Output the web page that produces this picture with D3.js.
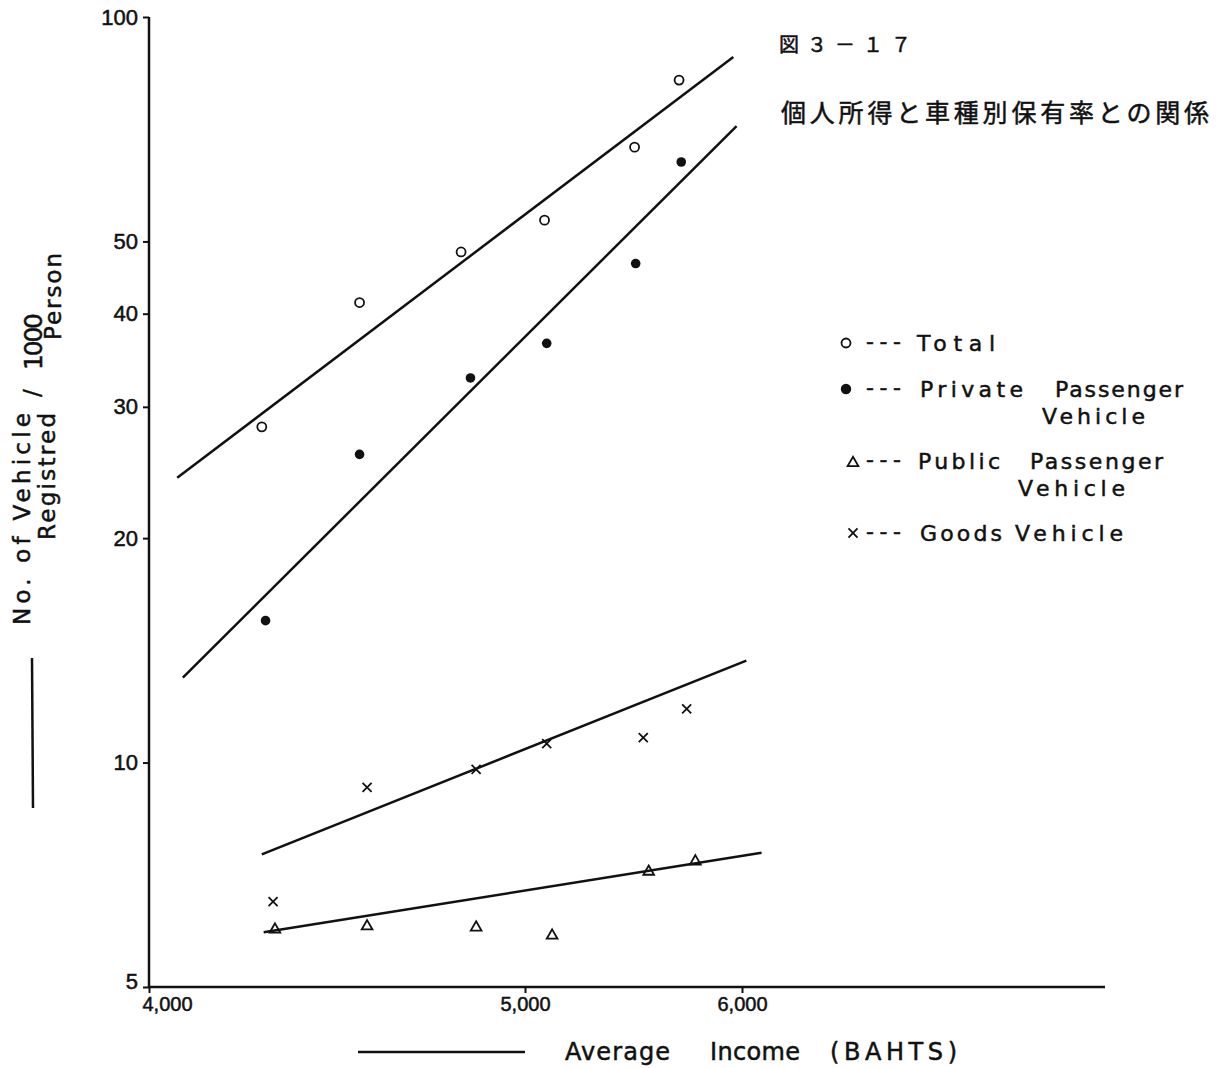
<!DOCTYPE html>
<html lang="ja">
<head>
<meta charset="UTF-8">
<title>個人所得と車種別保有率との関係</title>
<script src="https://cdn.jsdelivr.net/npm/d3@7"></script>
<style>
  body { margin: 0; background: #fff; }
  svg { display: block; font-family: "DejaVu Sans", sans-serif; }
  svg text { fill: #111; stroke: #111; stroke-width: 0.5px; }
  .axis line { stroke: #111; stroke-width: 2; }
  .jp { font-family: "Noto Sans CJK JP", sans-serif; }
</style>
</head>
<body>
<svg width="1219" height="1068"></svg>
<script>
// average income (BAHTS) vs vehicles registered per 1000 persons
const totalIncome   = [4300, 4560, 4830, 5090, 5505, 5710];
const totalRate     = [28.2, 41.4, 48.4, 53.4, 66.9, 82.3];
const privateIncome = [4310, 4560, 4855, 5100, 5510, 5720];
const privateRate   = [15.5, 25.9, 32.8, 36.5, 46.7, 63.9];
const publicIncome  = [4335, 4580, 4870, 5125, 5570, 5785];
const publicRate    = [5.97, 6.03, 6.01, 5.86, 7.14, 7.37];
const goodsIncome   = [4330, 4580, 4870, 5100, 5545, 5745];
const goodsRate     = [6.51, 9.26, 9.79, 10.6, 10.8, 11.8];

// fitted trend lines: [income, rate] at start and end
const totalFit   = [[4075, 24.1], [5960, 88.4]];
const privateFit = [[4090, 13.0], [5975, 71.4]];
const publicFit  = [[4305, 5.92], [6090, 7.57]];
const goodsFit   = [[4300, 7.53], [6020, 13.7]];

const seriesNames = ["Total", "Private Passenger Vehicle", "Public Passenger Vehicle", "Goods Vehicle"];
const xTicks = [4000, 5000, 6000];
const yTicks = [5, 10, 20, 30, 40, 50, 100];

const svg = d3.select("svg");
const x0 = 149, y0 = 987, yTop = 17, xEnd = 1105;

// the x axis of the original is not evenly spaced, so each labelled tick gets its own stop
const x = d3.scaleLinear().domain(xTicks).range([x0, 525, 742]);
const y = d3.scaleLog().domain([5, 100]).range([y0, yTop]);

// axes
svg.append("line")
    .attr("x1", x0).attr("y1", yTop).attr("x2", x0).attr("y2", y0)
    .attr("stroke", "#111").attr("stroke-width", 2.5);
svg.append("line")
    .attr("x1", x0).attr("y1", y0).attr("x2", xEnd).attr("y2", y0)
    .attr("stroke", "#111").attr("stroke-width", 2.5);

const gy = svg.append("g")
    .attr("class", "axis")
    .attr("transform", `translate(${x0},0)`)
    .call(d3.axisLeft(y).tickValues(yTicks).tickFormat(d3.format("d")).tickSize(6).tickPadding(5));
gy.select(".domain").remove();
gy.selectAll("text").style("font-size", "22px");
gy.selectAll(".tick").filter(d => d === 5).select("text").attr("dy", "0.05em");

const gx = svg.append("g")
    .attr("class", "axis")
    .attr("transform", `translate(0,${y0})`)
    .call(d3.axisBottom(x).tickValues(xTicks).tickFormat(d3.format(",")).tickSize(6).tickPadding(4));
gx.select(".domain").remove();
gx.selectAll("text").style("font-size", "20px");
gx.selectAll(".tick").filter(d => d === 4000).select("text").attr("dx", 18);

// trend lines
const line = d3.line().x(d => x(d[0])).y(d => y(d[1]));
[totalFit, privateFit, publicFit, goodsFit].forEach(fit => {
    svg.append("path")
        .attr("d", line(fit))
        .attr("fill", "none")
        .attr("stroke", "#111")
        .attr("stroke-width", 2.5);
});

// points
svg.append("g").selectAll("circle")
    .data(d3.zip(totalIncome, totalRate))
    .join("circle")
    .attr("cx", d => x(d[0])).attr("cy", d => y(d[1]))
    .attr("r", 4.5)
    .attr("fill", "#fff").attr("stroke", "#111").attr("stroke-width", 1.8);

svg.append("g").selectAll("circle")
    .data(d3.zip(privateIncome, privateRate))
    .join("circle")
    .attr("cx", d => x(d[0])).attr("cy", d => y(d[1]))
    .attr("r", 4.8)
    .attr("fill", "#111");

const tri = d3.symbol(d3.symbolTriangle, 50);
svg.append("g").selectAll("path")
    .data(d3.zip(publicIncome, publicRate))
    .join("path")
    .attr("d", tri)
    .attr("transform", d => `translate(${x(d[0])},${y(d[1])})`)
    .attr("fill", "none").attr("stroke", "#111").attr("stroke-width", 1.8);

const cross = d3.symbol(d3.symbolTimes, 55);
svg.append("g").selectAll("path")
    .data(d3.zip(goodsIncome, goodsRate))
    .join("path")
    .attr("d", cross)
    .attr("transform", d => `translate(${x(d[0])},${y(d[1])})`)
    .attr("fill", "none").attr("stroke", "#111").attr("stroke-width", 1.8);

// legend
const legend = svg.append("g").style("font-size", "22px");
const legendRows = [
    { sym: "open",   sx: 846, sy: 343, base: 351, lines: [[[917, 78, seriesNames[0]]]] },
    { sym: "filled", sx: 846, sy: 389, base: 397, lines: [[[920, 103, "Private"], [1055, 128, "Passenger"]], [[1042, 103, "Vehicle"]]] },
    { sym: "tri",    sx: 853, sy: 463, base: 469, lines: [[[918, 82, "Public"], [1030, 133, "Passenger"]], [[1018, 107, "Vehicle"]]] },
    { sym: "cross",  sx: 853, sy: 533, base: 541, lines: [[[920, 82, "Goods"], [1015, 108, "Vehicle"]]] }
];
legendRows.forEach(row => {
    if (row.sym === "open") {
        legend.append("circle").attr("cx", row.sx).attr("cy", row.sy).attr("r", 4.5)
            .attr("fill", "#fff").attr("stroke", "#111").attr("stroke-width", 1.8);
    } else if (row.sym === "filled") {
        legend.append("circle").attr("cx", row.sx).attr("cy", row.sy).attr("r", 5.2).attr("fill", "#111");
    } else {
        legend.append("path").attr("d", row.sym === "tri" ? tri() : cross())
            .attr("transform", `translate(${row.sx},${row.sy})`)
            .attr("fill", "none").attr("stroke", "#111").attr("stroke-width", 1.8);
    }
    legend.append("text").attr("x", 866).attr("y", row.base - 2)
        .attr("textLength", 35).attr("lengthAdjust", "spacing").text("---");
    row.lines.forEach((words, i) => {
        words.forEach(w => {
            legend.append("text")
                .attr("x", w[0]).attr("y", row.base + i * 27)
                .attr("textLength", w[1]).attr("lengthAdjust", "spacing")
                .text(w[2]);
        });
    });
});

// axis titles
svg.append("line").attr("x1", 358).attr("y1", 1052).attr("x2", 525).attr("y2", 1052)
    .attr("stroke", "#111").attr("stroke-width", 2.5);
const xTitle = svg.append("g").style("font-size", "24px");
[[565, 105, "Average"], [710, 90, "Income"], [830, 127, "(BAHTS)"]].forEach(w => {
    xTitle.append("text").attr("x", w[0]).attr("y", 1060)
        .attr("textLength", w[1]).attr("lengthAdjust", "spacing").text(w[2]);
});

svg.append("line").attr("x1", 32).attr("y1", 658).attr("x2", 33).attr("y2", 808)
    .attr("stroke", "#111").attr("stroke-width", 2.5);
const yTitle = svg.append("g");
[
    [30, 625, 212, "No. of Vehicle", 23],
    [55, 540, 127, "Registred", 23],
    [40, 397, 0, "/", 23],
    [42, 370, 57, "1000", 25],
    [61, 340, 87, "Person", 23]
].forEach(t => {
    const el = yTitle.append("text")
        .attr("transform", `translate(${t[0]},${t[1]}) rotate(-90)`)
        .style("font-size", t[4] + "px")
        .text(t[3]);
    if (t[2]) el.attr("textLength", t[2]).attr("lengthAdjust", "spacing");
});

// figure number and title
svg.append("text").attr("class", "jp")
    .attr("x", 779).attr("y", 52)
    .style("font-size", "20px").style("letter-spacing", "8px")
    .text("図３－１７");
svg.append("text").attr("class", "jp")
    .attr("x", 781).attr("y", 122)
    .style("font-size", "25px")
    .attr("textLength", 428).attr("lengthAdjust", "spacing")
    .text("個人所得と車種別保有率との関係");
</script>
</body>
</html>
